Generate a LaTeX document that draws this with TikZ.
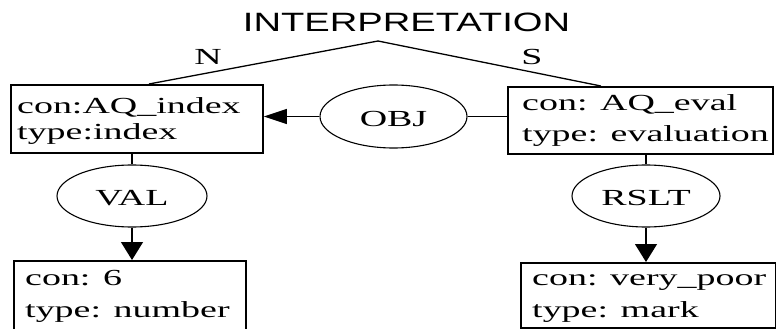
\documentclass[tikz,border=0pt]{standalone}
\usepackage{fontspec}
\setmainfont{Liberation Serif}[FakeStretch=1.65]
\newfontfamily\titlefont{Liberation Sans}[FakeStretch=1.44]
\usetikzlibrary{arrows.meta,shapes.geometric}
\begin{document}
\begin{tikzpicture}[x=1pt,y=-1pt,
  box/.style={draw, line width=1.8pt, rectangle, inner sep=0pt, anchor=north west},
  rel/.style={draw, ellipse, line width=1.1pt, inner sep=0pt, font=\fontsize{23}{23}\selectfont, text height=19pt, text depth=0pt},
  txt/.style={anchor=base west, inner sep=0pt, font=\fontsize{23}{23}\selectfont},
  lab/.style={anchor=base, inner sep=0pt, font=\fontsize{23}{23}\selectfont},
  conn/.style={line width=1.3pt},
  harrow/.style={conn, -{Triangle[length=23pt,width=15pt]}},
  varrow/.style={conn, -{Triangle[length=18pt,width=22pt]}},
]
\clip (0,0) rectangle (776,329);
% title
\node[anchor=base, inner sep=0pt, font=\titlefont\fontsize{26.5}{26.5}\selectfont] (title) at (406.5,32) {INTERPRETATION};
\coordinate (apex) at (378,41);
% boxes
\node[box, minimum width=252pt, minimum height=68pt] (b1) at (10,84) {};
\node[box, minimum width=265pt, minimum height=67pt] (b2) at (507,86) {};
\node[box, minimum width=232pt, minimum height=72pt] (b3) at (13,260) {};
\node[box, minimum width=255pt, minimum height=65pt] (b4) at (520,262) {};
% box texts
\node[txt] (t1a) at (17,113) {con:AQ\_index};
\node[txt] (t1b) at (17,139) {type:index};
\node[txt] (t2a) at (522,110) {con: AQ\_eval};
\node[txt] (t2b) at (522,141) {type: evaluation};
\node[txt] (t3a) at (25,285) {con: 6};
\node[txt] (t3b) at (25,317) {type: number};
\node[txt] (t4a) at (532,285) {con: very\_poor};
\node[txt] (t4b) at (532,317) {type: mark};
% relations
\node[rel, minimum width=147pt, minimum height=63pt] (obj) at (393.5,116.5) {OBJ};
\node[rel, minimum width=150pt, minimum height=62pt] (val) at (132,196) {VAL};
\node[rel, minimum width=148pt, minimum height=62pt] (rslt) at (646,196) {RSLT};
% tree lines
\draw[conn] (apex) -- ([xshift=12pt]b1.north);
\draw[conn] (apex) -- ([xshift=-39.5pt]b2.north);
\node[lab] (n) at (208,65) {N};
\node[lab] (s) at (532,64) {S};
% connectors
\draw[harrow] (obj.west) -- (obj.west -| b1.east);
\draw[conn] (b2.west |- obj.east) -- (obj.east);
\draw[conn] (val.north |- b1.south) -- (val.north);
\draw[varrow] (val.south) -- (val.south |- b3.north);
\draw[conn] (rslt.north |- b2.south) -- (rslt.north);
\draw[varrow] (rslt.south) -- (rslt.south |- b4.north);
\end{tikzpicture}
\end{document}
